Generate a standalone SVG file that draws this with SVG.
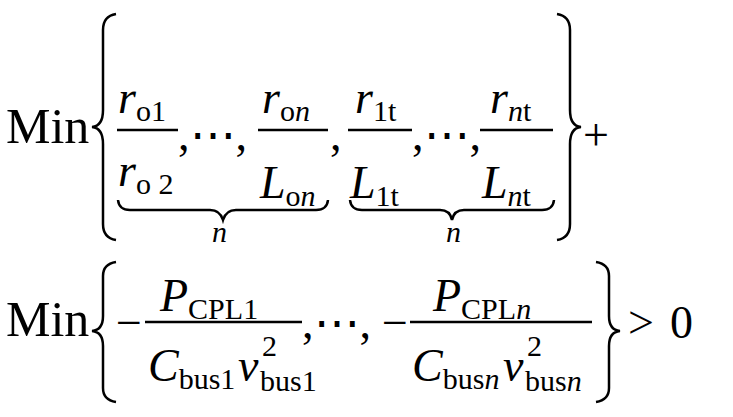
<svg xmlns="http://www.w3.org/2000/svg" width="733" height="417" viewBox="0 0 733 417">
<style>
text{font-family:"Liberation Serif","Times New Roman",serif;fill:#000}
.m{font-size:50px}
.v{font-size:46px;font-style:italic}
.r{font-size:46px}
.s{font-size:30px}
.si{font-size:30px;font-style:italic}
.l{stroke:#000;stroke-width:2.5;fill:none}
.b{stroke:#000;stroke-width:2.5;fill:none}
</style>
<rect width="733" height="417" fill="#fff"/>
<text class="m" x="6" y="143">Min</text>
<path class="b" d="M116,14 Q103,16 103,30 L103,110 Q103,126 92,127 Q103,128 103,144 L103,224 Q103,238 116,240"/>
<text x="118" y="113"><tspan class="v">r</tspan><tspan class="s" dy="8">o1</tspan></text>
<line class="l" x1="117" y1="130" x2="178" y2="130"/>
<text x="118" y="186"><tspan class="v">r</tspan><tspan class="s" dy="8">o 2</tspan></text>
<text class="r" x="178" y="150">,⋯,</text>
<text x="262" y="113"><tspan class="v">r</tspan><tspan class="s" dy="8">o</tspan><tspan class="si">n</tspan></text>
<line class="l" x1="258" y1="130" x2="328" y2="130"/>
<text x="260" y="198"><tspan class="v">L</tspan><tspan class="s" dy="8">o</tspan><tspan class="si">n</tspan></text>
<text class="r" x="330" y="150">,</text>
<text x="355" y="113"><tspan class="v">r</tspan><tspan class="s" dy="8">1t</tspan></text>
<line class="l" x1="348" y1="130" x2="412" y2="130"/>
<text x="350" y="198"><tspan class="v">L</tspan><tspan class="s" dy="8">1t</tspan></text>
<text class="r" x="412" y="150">,⋯,</text>
<text x="490" y="113"><tspan class="v">r</tspan><tspan class="si" dy="8">n</tspan><tspan class="s">t</tspan></text>
<line class="l" x1="480" y1="130" x2="553" y2="130"/>
<text x="482" y="198"><tspan class="v">L</tspan><tspan class="si" dy="8">n</tspan><tspan class="s">t</tspan></text>
<path class="b" d="M557,14 Q570,16 570,30 L570,110 Q570,126 581,127 Q570,128 570,144 L570,224 Q570,238 557,240"/>
<text class="r" x="583" y="150">+</text>
<path class="b" d="M118,200 Q119,210 130,210 L210,210 Q220,210 223,220 Q226,210 236,210 L316,210 Q327,210 328,200"/>
<text class="si" x="212" y="242">n</text>
<path class="b" d="M350,200 Q351,210 362,210 L440,210 Q450,210 452,220 Q454,210 464,210 L542,210 Q553,210 554,200"/>
<text class="si" x="446" y="242">n</text>
<text class="m" x="6" y="336">Min</text>
<path class="b" d="M116,262 Q103,264 103,276 L103,316 Q103,330 92,331 Q103,332 103,346 L103,388 Q103,400 116,402"/>
<text class="r" x="116" y="338">−</text>
<text x="160" y="311"><tspan class="v">P</tspan><tspan class="s" dy="8">CPL1</tspan></text>
<line class="l" x1="145" y1="322" x2="302" y2="322"/>
<text x="148" y="381"><tspan class="v">C</tspan><tspan class="s" dy="8">bus1</tspan></text>
<text class="v" x="238" y="381">v</text>
<text class="s" x="262" y="356">2</text>
<text class="s" x="260" y="391">bus1</text>
<text class="r" x="302" y="338">,⋯,</text>
<text class="r" x="382" y="338">−</text>
<text x="433" y="311"><tspan class="v">P</tspan><tspan class="s" dy="8">CPL</tspan><tspan class="si">n</tspan></text>
<line class="l" x1="410" y1="322" x2="592" y2="322"/>
<text x="412" y="381"><tspan class="v">C</tspan><tspan class="s" dy="8">bus</tspan><tspan class="si">n</tspan></text>
<text class="v" x="503" y="381">v</text>
<text class="s" x="527" y="356">2</text>
<text class="s" x="525" y="391">bus<tspan class="si">n</tspan></text>
<path class="b" d="M596,262 Q609,264 609,276 L609,316 Q609,330 620,331 Q609,332 609,346 L609,388 Q609,400 596,402"/>
<text class="r" x="628" y="338">&gt;</text>
<text class="r" x="670" y="338">0</text>
</svg>
